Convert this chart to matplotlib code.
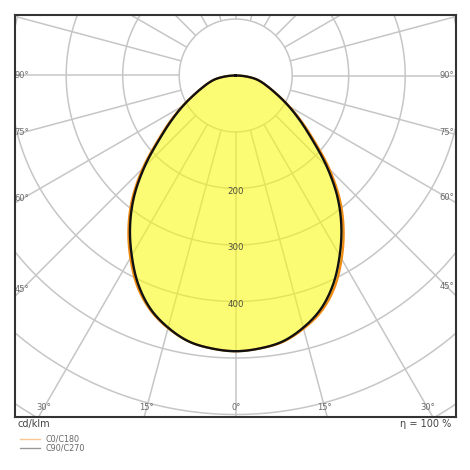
import numpy as np
import matplotlib
matplotlib.use("Agg")
import matplotlib.pyplot as plt

# ---- data (cd/klm) ----
gamma = [0, 5, 10, 15, 20, 25, 30, 35, 40, 45, 50, 55, 60, 65, 70, 75, 80, 85, 90]
c90_c270 = [488, 485, 478, 462, 440, 408, 368, 326, 280, 228, 177, 139, 108, 82, 63, 49, 36, 18, 0]
c0 = [488, 485, 479, 464, 444, 414, 375, 333, 287, 235, 183, 143, 110, 83, 63, 49, 36, 18, 0]
c180 = [488, 485, 478, 463, 442, 412, 373, 331, 285, 233, 181, 142, 109, 82, 63, 49, 36, 18, 0]

ring_values = [100, 200, 300, 400, 500, 600, 700, 800, 900]
ring_labels = [200, 300, 400]
spoke_angles = list(range(0, 360, 15))
side_labels = [45, 60, 75, 90]
bottom_labels = [-30, -15, 0, 15, 30]
legend_names = ["C0/C180", "C90/C270"]
eta_text = "η = 100 %"
unit_text = "cd/klm"

# ---- geometry ----
W = H = 470
s = 0.565  # px per cd
cx, cy = 235.7, 75.5
L, R, T, B = 15, 456, 15, 417

fig = plt.figure(figsize=(4.7, 4.7), dpi=100)
ax = fig.add_axes([L / W, 1 - B / H, (R - L) / W, (B - T) / H])
ax.set_xlim((L - cx) / s, (R - cx) / s)
ax.set_ylim(-(B - cy) / s, (cy - T) / s)
ax.set_xticks([])
ax.set_yticks([])
for sp in ax.spines.values():
    sp.set_color("#333333")
    sp.set_linewidth(1.5)
    sp.set_zorder(10)

grid_c = "#c6c6c6"
for a in spoke_angles:
    t = np.radians(a)
    r0, r1 = ring_values[0], 2000
    ax.plot([r0 * np.sin(t), r1 * np.sin(t)], [-r0 * np.cos(t), -r1 * np.cos(t)],
            color=grid_c, lw=1.1, zorder=1, solid_capstyle="butt")
th = np.linspace(0, 2 * np.pi, 721)
for r in ring_values:
    ax.plot(r * np.sin(th), -r * np.cos(th), color=grid_c, lw=1.1, zorder=1)


def smooth(vals, n=20):
    """Catmull-Rom through the read points (symmetric at 0 deg, odd at 90 deg)."""
    g = np.array(gamma, dtype=float)
    v = np.array(vals, dtype=float)
    step = g[1] - g[0]
    gx = np.concatenate([[g[0] - step], g, [g[-1] + step]])
    vx = np.concatenate([[v[1]], v, [-v[-2]]])
    G, V = [], []
    for i in range(1, len(gx) - 2):
        p0, p1, p2, p3 = vx[i - 1], vx[i], vx[i + 1], vx[i + 2]
        tt = np.linspace(0, 1, n, endpoint=False)
        val = 0.5 * ((2 * p1) + (-p0 + p2) * tt + (2 * p0 - 5 * p1 + 4 * p2 - p3) * tt ** 2
                     + (-p0 + 3 * p1 - 3 * p2 + p3) * tt ** 3)
        G.append(gx[i] + step * tt)
        V.append(val)
    G.append([g[-1]])
    V.append([v[-1]])
    return np.radians(np.concatenate(G)), np.maximum(np.concatenate(V), 0)


def side(vals, sign):
    gg, v = smooth(vals)
    return sign * v * np.sin(gg), -v * np.cos(gg)


xl, yl = side(c180, -1)
xr, yr = side(c0, 1)
fx = np.concatenate([xl[::-1], xr])
fy = np.concatenate([yl[::-1], yr])
ax.fill(fx, fy, color="#fafa10", alpha=0.58, lw=0, zorder=2)
ax.plot(fx, fy, color="#f08c14", lw=1.6, zorder=4)

bl, byl = side(c90_c270, -1)
br, byr = side(c90_c270, 1)
ax.plot(np.concatenate([bl[::-1], br]), np.concatenate([byl[::-1], byr]),
        color="#111111", lw=1.7, zorder=5)

for r in ring_labels:
    ax.text(0, -(r + 5), str(r), ha="center", va="center", fontsize=6.2,
            color="#4f4f40", zorder=6)

xl_lab = (22 - cx) / s
xr_lab = (447 - cx) / s
for a in side_labels:
    t = np.radians(a)
    y = -abs(xl_lab) / np.tan(t) if a != 90 else 0.0
    ax.text(xl_lab, y, f"{a}°", ha="center", va="center", fontsize=6, color="#6a6a6a", zorder=6)
    y = -abs(xr_lab) / np.tan(t) if a != 90 else 0.0
    ax.text(xr_lab, y, f"{a}°", ha="center", va="center", fontsize=6, color="#6a6a6a", zorder=6)

yb = -(408 - cy) / s
for a in bottom_labels:
    x = -yb * np.tan(np.radians(a))
    ax.text(x, yb, f"{abs(a)}°", ha="center", va="center", fontsize=6, color="#6a6a6a", zorder=6)

fig.text(18 / W, 1 - 424 / H, unit_text, ha="left", va="center", fontsize=7, color="#444444")
fig.text(451 / W, 1 - 424 / H, eta_text, ha="right", va="center", fontsize=7, color="#444444")

leg_cols = ["#f8c890", "#999999"]
for i, (nm, c) in enumerate(zip(legend_names, leg_cols)):
    yy = 1 - (439 + 9 * i) / H
    fig.add_artist(plt.Line2D([20 / W, 40 / W], [yy, yy], color=c, lw=1.0))
    fig.text(45 / W, yy, nm, ha="left", va="center", fontsize=5.8, color="#666666")

fig.savefig("out.png", dpi=100, facecolor="white")
